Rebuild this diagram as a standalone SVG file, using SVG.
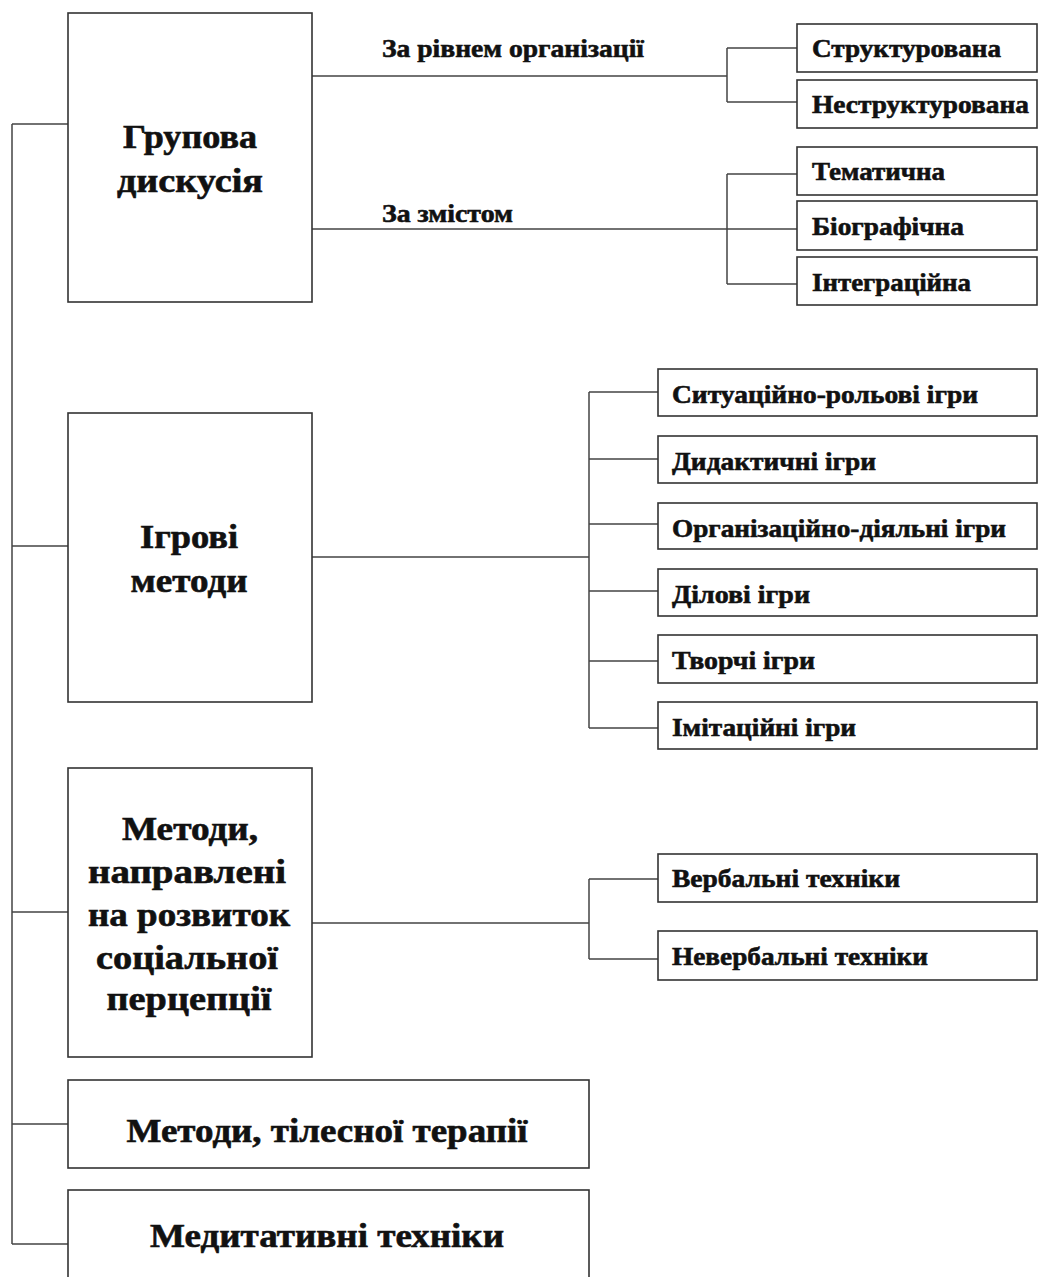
<svg xmlns="http://www.w3.org/2000/svg" width="1038" height="1277" viewBox="0 0 1038 1277">
<style>
.box{fill:#fff;stroke:#333;stroke-width:1.6}
.ln{fill:none;stroke:#444;stroke-width:1.5}
.t{font-family:"Liberation Serif","Times New Roman",serif;font-weight:bold;fill:#111;stroke:#111;stroke-width:0.6}
.big{font-size:33px;text-anchor:middle}
.sm{font-size:26px}
</style>
<rect width="1038" height="1277" fill="#fff"/>
<g id="connectors">
<path class="ln" d="M12,124 V1244 M12,124 H68 M12,546 H68 M12,912 H68 M12,1124 H68 M12,1244 H68"/>
<path class="ln" d="M312,76 H727 M727,48 V102 M727,48 H797 M727,102 H797"/>
<path class="ln" d="M312,229 H797 M727,174 V284 M727,174 H797 M727,284 H797"/>
<path class="ln" d="M312,557 H589 M589,392 V728 M589,392 H658 M589,459 H658 M589,524 H658 M589,591 H658 M589,661 H658 M589,728 H658"/>
<path class="ln" d="M312,923 H589 M589,879 V959 M589,879 H658 M589,959 H658"/>
</g>
<g id="edge-labels">
<text class="t sm" x="382" y="57" textLength="262" lengthAdjust="spacingAndGlyphs">За рівнем організації</text>
<text class="t sm" x="382" y="222" textLength="131" lengthAdjust="spacingAndGlyphs">За змістом</text>
</g>
<g id="n-group">
<rect class="box" x="68" y="13" width="244" height="289"/>
<text class="t big" x="190" y="148" textLength="134" lengthAdjust="spacingAndGlyphs">Групова</text>
<text class="t big" x="190" y="192" textLength="146" lengthAdjust="spacingAndGlyphs">дискусія</text>
</g>
<g id="n-struct">
<rect class="box" x="797" y="24" width="240" height="48"/>
<text class="t sm" x="812" y="57" textLength="189" lengthAdjust="spacingAndGlyphs">Структурована</text>
</g>
<g id="n-unstruct">
<rect class="box" x="797" y="80" width="240" height="48"/>
<text class="t sm" x="812" y="113" textLength="217" lengthAdjust="spacingAndGlyphs">Неструктурована</text>
</g>
<g id="n-them">
<rect class="box" x="797" y="147" width="240" height="48"/>
<text class="t sm" x="812" y="180" textLength="133" lengthAdjust="spacingAndGlyphs">Тематична</text>
</g>
<g id="n-bio">
<rect class="box" x="797" y="201" width="240" height="49"/>
<text class="t sm" x="812" y="235" textLength="152" lengthAdjust="spacingAndGlyphs">Біографічна</text>
</g>
<g id="n-integr">
<rect class="box" x="797" y="257" width="240" height="48"/>
<text class="t sm" x="812" y="291" textLength="159" lengthAdjust="spacingAndGlyphs">Інтеграційна</text>
</g>
<g id="n-games">
<rect class="box" x="68" y="413" width="244" height="289"/>
<text class="t big" x="189" y="548" textLength="98" lengthAdjust="spacingAndGlyphs">Ігрові</text>
<text class="t big" x="189" y="592" textLength="117" lengthAdjust="spacingAndGlyphs">методи</text>
</g>
<g id="n-g1">
<rect class="box" x="658" y="369" width="379" height="47"/>
<text class="t sm" x="672" y="403" textLength="306" lengthAdjust="spacingAndGlyphs">Ситуаційно-рольові ігри</text>
</g>
<g id="n-g2">
<rect class="box" x="658" y="436" width="379" height="47"/>
<text class="t sm" x="672" y="470" textLength="204" lengthAdjust="spacingAndGlyphs">Дидактичні ігри</text>
</g>
<g id="n-g3">
<rect class="box" x="658" y="503" width="379" height="46"/>
<text class="t sm" x="672" y="537" textLength="334" lengthAdjust="spacingAndGlyphs">Організаційно-діяльні ігри</text>
</g>
<g id="n-g4">
<rect class="box" x="658" y="569" width="379" height="47"/>
<text class="t sm" x="672" y="603" textLength="138" lengthAdjust="spacingAndGlyphs">Ділові ігри</text>
</g>
<g id="n-g5">
<rect class="box" x="658" y="635" width="379" height="48"/>
<text class="t sm" x="672" y="669" textLength="143" lengthAdjust="spacingAndGlyphs">Творчі ігри</text>
</g>
<g id="n-g6">
<rect class="box" x="658" y="702" width="379" height="47"/>
<text class="t sm" x="672" y="736" textLength="184" lengthAdjust="spacingAndGlyphs">Імітаційні ігри</text>
</g>
<g id="n-social">
<rect class="box" x="68" y="768" width="244" height="289"/>
<text class="t big" x="190" y="840" textLength="136" lengthAdjust="spacingAndGlyphs">Методи,</text>
<text class="t big" x="187" y="883" textLength="198" lengthAdjust="spacingAndGlyphs">направлені</text>
<text class="t big" x="189" y="926" textLength="202" lengthAdjust="spacingAndGlyphs">на розвиток</text>
<text class="t big" x="187" y="969" textLength="182" lengthAdjust="spacingAndGlyphs">соціальної</text>
<text class="t big" x="189" y="1010" textLength="165" lengthAdjust="spacingAndGlyphs">перцепції</text>
</g>
<g id="n-verbal">
<rect class="box" x="658" y="854" width="379" height="48"/>
<text class="t sm" x="672" y="887" textLength="228" lengthAdjust="spacingAndGlyphs">Вербальні техніки</text>
</g>
<g id="n-nonverbal">
<rect class="box" x="658" y="931" width="379" height="49"/>
<text class="t sm" x="672" y="965" textLength="256" lengthAdjust="spacingAndGlyphs">Невербальні техніки</text>
</g>
<g id="n-body">
<rect class="box" x="68" y="1080" width="521" height="88"/>
<text class="t big" x="327" y="1142" textLength="401" lengthAdjust="spacingAndGlyphs">Методи, тілесної терапії</text>
</g>
<g id="n-medit">
<rect class="box" x="68" y="1190" width="521" height="100"/>
<text class="t big" x="327" y="1247" textLength="354" lengthAdjust="spacingAndGlyphs">Медитативні техніки</text>
</g>
</svg>
